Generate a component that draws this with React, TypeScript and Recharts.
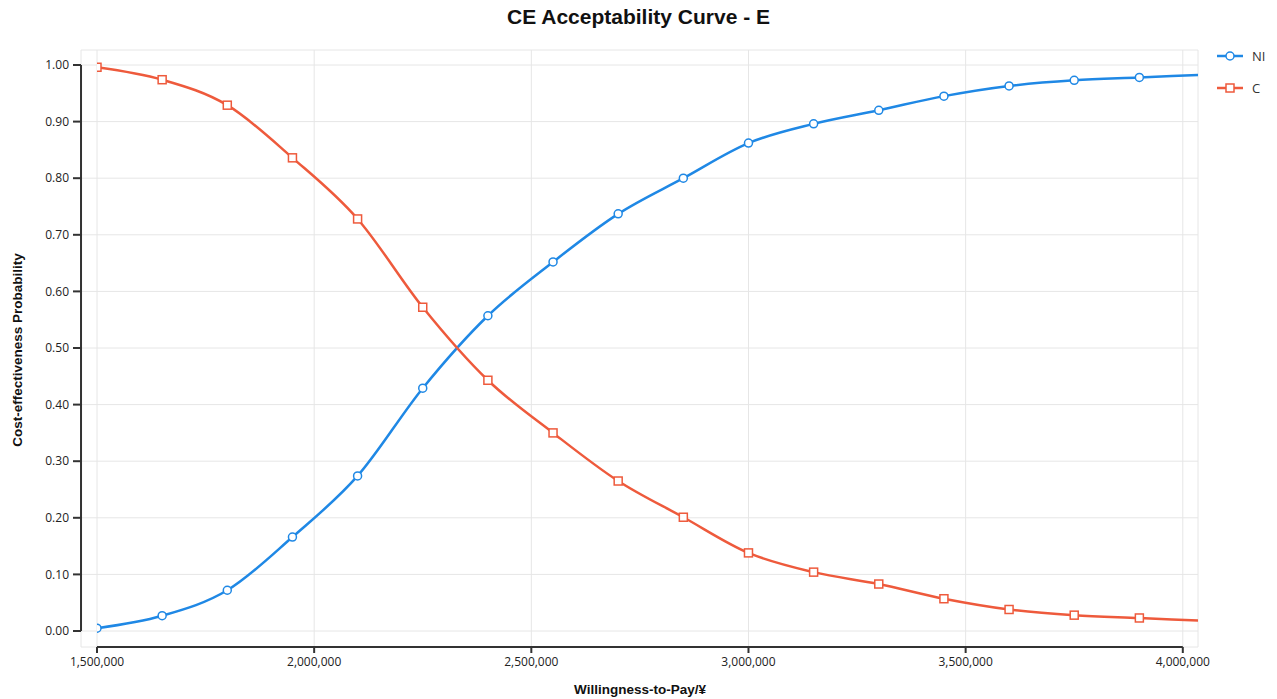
import React from 'react';
import { LineChart, Line, XAxis, YAxis, CartesianGrid, ReferenceLine } from 'recharts';

// willingness-to-pay steps (last one runs past the axis end and is clipped)
const wtp = [
  1500000, 1650000, 1800000, 1950000, 2100000, 2250000, 2400000, 2550000, 2700000,
  2850000, 3000000, 3150000, 3300000, 3450000, 3600000, 3750000, 3900000, 4050000,
];
const niProb = [
  0.005, 0.027, 0.072, 0.166, 0.274, 0.429, 0.557, 0.652, 0.737,
  0.8, 0.862, 0.896, 0.92, 0.945, 0.963, 0.973, 0.978, 0.983,
];
const cProb = [
  0.996, 0.974, 0.929, 0.836, 0.728, 0.572, 0.443, 0.35, 0.265,
  0.201, 0.138, 0.104, 0.083, 0.057, 0.038, 0.028, 0.023, 0.018,
];
const xTicks = [1500000, 2000000, 2500000, 3000000, 3500000, 4000000];
const yTicks = [0, 0.1, 0.2, 0.3, 0.4, 0.5, 0.6, 0.7, 0.8, 0.9, 1.0];

const data = wtp.map((x, i) => ({ wtp: x, NI: niProb[i], C: cProb[i] }));

const BLUE = '#1f88e5';
const RED = '#ee5a3c';
const AXIS = '#333';
const FONT = '"Open Sans", "Noto Sans", sans-serif';
const TITLE_FONT = '"Liberation Sans", Arial, sans-serif';

// axis lines sit a little outside the data area (offset axes)
const X_DOMAIN_MAX = 4035000;
const Y_AXIS_AT = 1463200;
const X_AXIS_AT = -0.0283;

const fmt = (v: number) => v.toLocaleString('en-US');

const SquareDot = (props: any) => {
  const { cx, cy } = props;
  if (cx == null || cy == null) return null;
  return <rect x={cx - 4} y={cy - 4} width={8} height={8} fill="#fff" stroke={RED} strokeWidth={1.5} />;
};

const series = [
  { name: 'NI', color: BLUE, shape: 'circle' },
  { name: 'C', color: RED, shape: 'square' },
];

const LegendBox = () => (
  <div style={{ position: 'absolute', left: 1216, top: 40, fontFamily: FONT, fontSize: 13, color: '#333' }}>
    {series.map((s) => (
      <div key={s.name} style={{ display: 'flex', alignItems: 'center', height: 32 }}>
        <svg width={28} height={12} style={{ marginRight: 8 }}>
          <line x1={1} y1={6} x2={27} y2={6} stroke={s.color} strokeWidth={2.5} />
          {s.shape === 'circle' ? (
            <circle cx={14} cy={6} r={4} fill="#fff" stroke={s.color} strokeWidth={1.5} />
          ) : (
            <rect x={10} y={2} width={8} height={8} fill="#fff" stroke={s.color} strokeWidth={1.5} />
          )}
        </svg>
        <span>{s.name}</span>
      </div>
    ))}
  </div>
);

export default function App() {
  return (
    <div style={{ position: 'absolute', left: 0, top: 0, width: 1277, height: 699, background: '#fff' }}>
      <div
        style={{
          position: 'absolute', top: 5, left: 0, width: 1277, textAlign: 'center',
          fontFamily: TITLE_FONT, fontWeight: 'bold', fontSize: 21, color: '#111',
        }}
      >
        CE Acceptability Curve - E
      </div>
      <div
        style={{
          position: 'absolute', left: 17, top: 350, transform: 'translate(-50%, -50%) rotate(-90deg)',
          whiteSpace: 'nowrap', fontFamily: TITLE_FONT, fontWeight: 'bold', fontSize: 13.5, color: '#111',
        }}
      >
        Cost-effectiveness Probability
      </div>
      <div
        style={{
          position: 'absolute', left: 640, top: 689, transform: 'translate(-50%, -50%)',
          whiteSpace: 'nowrap', fontFamily: TITLE_FONT, fontWeight: 'bold', fontSize: 13.5, color: '#111',
        }}
      >
        Willingness-to-Pay/¥
      </div>
      <LegendBox />

      <LineChart width={1277} height={699} data={data} margin={{ top: 50, right: 79, left: 0, bottom: 0 }}>
        <CartesianGrid stroke="#e6e6e6" strokeWidth={1} />
        <XAxis
          dataKey="wtp"
          type="number"
          domain={[1500000, X_DOMAIN_MAX]}
          allowDataOverflow
          ticks={xTicks}
          tickFormatter={fmt}
          padding={{ left: 16, right: 0 }}
          height={52}
          axisLine={false}
          tickLine={{ stroke: AXIS, strokeWidth: 2 }}
          tickSize={6}
          tickMargin={4}
          tick={{ fontSize: 12, fill: '#222', fontFamily: FONT }}
        />
        <YAxis
          type="number"
          domain={[0, 1]}
          ticks={yTicks}
          tickFormatter={(v: number) => v.toFixed(2)}
          padding={{ top: 15, bottom: 16 }}
          width={81}
          axisLine={false}
          tickLine={{ stroke: AXIS, strokeWidth: 2 }}
          tickSize={8}
          tickMargin={4}
          tick={{ fontSize: 12, fill: '#222', fontFamily: FONT }}
        />
        <ReferenceLine
          segment={[{ x: xTicks[0], y: X_AXIS_AT }, { x: xTicks[xTicks.length - 1], y: X_AXIS_AT }]}
          stroke={AXIS}
          strokeWidth={2}
          ifOverflow="visible"
        />
        <ReferenceLine
          segment={[{ x: Y_AXIS_AT, y: yTicks[0] }, { x: Y_AXIS_AT, y: yTicks[yTicks.length - 1] }]}
          stroke={AXIS}
          strokeWidth={2}
          ifOverflow="visible"
        />
        <Line
          type="monotone"
          dataKey="NI"
          name="NI"
          stroke={BLUE}
          strokeWidth={2.5}
          dot={{ r: 4, fill: '#fff', stroke: BLUE, strokeWidth: 1.5 }}
          activeDot={false}
          isAnimationActive={false}
        />
        <Line
          type="monotone"
          dataKey="C"
          name="C"
          stroke={RED}
          strokeWidth={2.5}
          dot={<SquareDot />}
          activeDot={false}
          isAnimationActive={false}
        />
      </LineChart>
    </div>
  );
}
